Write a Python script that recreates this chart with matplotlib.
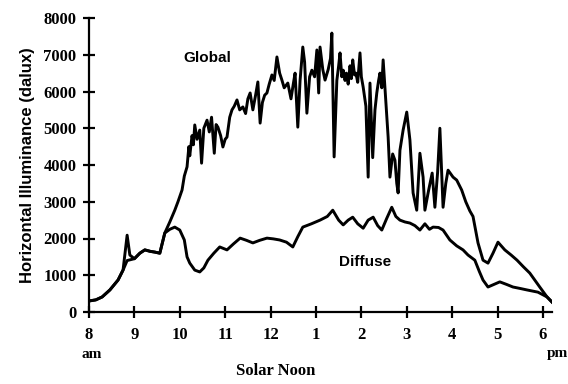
import matplotlib
matplotlib.use("Agg")
import matplotlib.pyplot as plt

# hours (24h clock) and horizontal illuminance in dalux
global_hr = [8.0, 8.15, 8.29, 8.46, 8.64, 8.75, 8.84, 9.0, 9.12, 9.23, 9.35, 9.45, 9.56,
             9.67, 9.78, 9.89, 9.96, 10.05, 10.1, 10.16, 10.2, 10.22, 10.27, 10.3, 10.33,
             10.38, 10.44, 10.48, 10.53, 10.6, 10.65, 10.7, 10.76, 10.8, 10.84, 10.9, 10.95,
             11.0, 11.04, 11.1, 11.15, 11.2, 11.26, 11.32, 11.39, 11.45, 11.5, 11.55, 11.61,
             11.67, 11.72, 11.77, 11.82, 11.87, 11.92, 11.97, 12.03, 12.08, 12.14, 12.2,
             12.25, 12.3, 12.38, 12.45, 12.5, 12.54, 12.6, 12.65, 12.71, 12.75, 12.8, 12.86,
             12.91, 12.97, 13.02, 13.06, 13.09, 13.15, 13.2, 13.27, 13.32, 13.35, 13.4,
             13.46, 13.5, 13.53, 13.57, 13.6, 13.64, 13.67, 13.71, 13.75, 13.78, 13.81,
             13.85, 13.88, 13.92, 13.97, 14.0, 14.04, 14.1, 14.15,
             14.19, 14.25, 14.3, 14.34, 14.38, 14.41, 14.45, 14.48, 14.55, 14.59, 14.63,
             14.69, 14.74, 14.78, 14.81, 14.85, 14.92, 15.0, 15.07, 15.14, 15.22, 15.29,
             15.36, 15.4, 15.48, 15.56, 15.62, 15.68, 15.73, 15.8, 15.86, 15.91, 16.02,
             16.1, 16.21, 16.3, 16.39, 16.46, 16.57, 16.68, 16.79, 16.9, 17.01, 17.16,
             17.3, 17.43, 17.57, 17.71, 17.82, 17.93, 18.09, 18.2]
global_lux = [300, 330, 410, 600, 870, 1140, 1400, 1450, 1600, 1690, 1650, 1630, 1600,
              2150, 2450, 2770, 3000, 3320, 3700, 3950, 4500, 4250, 4800, 4550, 5090,
              4700, 4950, 4050, 5000, 5220, 4900, 5300, 4320, 5100, 5030, 4800, 4490,
              4700, 4760, 5300, 5500, 5600, 5770, 5500, 5580, 5400, 5800, 5960, 5500,
              5900, 6260, 5140, 5700, 5900, 5960, 6200, 6450, 6300, 6940, 6500,
              6310, 6100, 6230, 5800, 6200, 6500, 5030, 6300, 7210, 6800, 5410, 6400,
              6580, 6400, 7130, 5960, 7210, 6600, 6310, 6600, 6900, 7590, 4220,
              6300, 6700, 7050, 6400, 6580, 6300, 6500, 6200, 6700, 6350, 6860,
              6450, 6500, 6250, 7050, 6400, 6120, 5600, 3670,
              6230, 4200, 5500, 5960, 6300, 6500, 6100, 6860, 5500, 4760, 3670,
              4300, 4130, 3500, 3240, 4400, 4950, 5440, 4680, 3240, 2770, 4320,
              3670, 2770, 3300, 3780, 2850, 3800, 5000, 2850, 3500, 3860, 3670,
              3590, 3320, 3000, 2750, 2600, 1880, 1410, 1330, 1600, 1900, 1690,
              1550, 1410, 1230, 1060, 870, 680, 410, 270]

diffuse_hr = [8.0, 8.15, 8.29, 8.46, 8.64, 8.75, 8.84, 8.9, 9.0, 9.12, 9.23, 9.35, 9.45,
              9.56, 9.67, 9.78, 9.89, 10.0, 10.1, 10.16, 10.22, 10.33, 10.44, 10.53, 10.62,
              10.75, 10.88, 11.04, 11.18, 11.33, 11.47, 11.61, 11.76, 11.92, 12.06, 12.2,
              12.35, 12.49, 12.6, 12.71, 12.9, 13.09, 13.25, 13.37, 13.5, 13.6, 13.71,
              13.81, 13.92, 14.04, 14.15, 14.26, 14.36, 14.45, 14.56, 14.67, 14.76, 14.85,
              14.96, 15.07, 15.18, 15.29, 15.4, 15.5, 15.58, 15.7, 15.8, 15.95, 16.1,
              16.24, 16.35, 16.5, 16.6, 16.68, 16.79, 16.92, 17.05, 17.2, 17.34, 17.5,
              17.65, 17.89, 18.09, 18.2]
diffuse_lux = [300, 330, 410, 600, 870, 1140, 2090, 1550, 1450, 1600, 1690, 1650, 1630,
               1600, 2150, 2250, 2310, 2230, 1960, 1500, 1330, 1140, 1090, 1200, 1410,
               1600, 1770, 1690, 1850, 2010, 1950, 1880, 1950, 2010, 1990, 1960,
               1900, 1770, 2050, 2310, 2400, 2500, 2600, 2770, 2500, 2370, 2500,
               2580, 2400, 2280, 2500, 2580, 2350, 2230, 2550, 2850, 2600, 2500,
               2450, 2420, 2350, 2230, 2400, 2250, 2310, 2300, 2230, 1960, 1800,
               1690, 1550, 1410, 1100, 870, 680, 750, 820, 750, 680, 640,
               600, 540, 410, 270]

x_ticks = [8, 9, 10, 11, 12, 13, 14, 15, 16, 17, 18]
x_labels = ["8", "9", "10", "11", "12", "1", "2", "3", "4", "5", "6"]
y_ticks = [0, 1000, 2000, 3000, 4000, 5000, 6000, 7000, 8000]

serif = "Liberation Serif"
sans = "Liberation Sans"

fig = plt.figure(figsize=(5.68, 3.84), dpi=100)
ax = fig.add_axes([89 / 568, 72 / 384, 463 / 568, 294 / 384])

ax.plot(global_hr, global_lux, color="black", lw=2.1)
ax.plot(diffuse_hr, diffuse_lux, color="black", lw=2.1)

ax.set_xlim(8, 18.2)
ax.set_ylim(0, 8000)
for s in ["top", "right"]:
    ax.spines[s].set_visible(False)
for s in ["left", "bottom"]:
    ax.spines[s].set_linewidth(1.6)

ax.set_xticks(x_ticks)
ax.set_xticklabels(x_labels, fontfamily=serif, fontweight="bold", fontsize=12)
ax.set_yticks(y_ticks)
ax.set_yticklabels([str(v) for v in y_ticks], fontfamily=serif, fontweight="bold", fontsize=12)
ax.tick_params(axis="both", direction="inout", length=8, width=1.6)
ax.tick_params(axis="x", pad=7)
ax.tick_params(axis="y", pad=5)

ax.set_ylabel("Horizontal Illuminance (dalux)", fontfamily=sans, fontweight="bold",
              fontsize=12, labelpad=6)

ax.text(10.6, 6900, "Global", fontfamily=sans, fontweight="bold", fontsize=11,
        ha="center", va="center")
ax.text(14.08, 1360, "Diffuse", fontfamily=sans, fontweight="bold", fontsize=11,
        ha="center", va="center")

fig.text(92 / 568, 1 - 354 / 384, "am", fontfamily=serif, fontweight="bold",
         fontsize=11, ha="center", va="center")
fig.text(557 / 568, 1 - 354 / 384, "pm", fontfamily=serif, fontweight="bold",
         fontsize=11, ha="center", va="center")
fig.text(276 / 568, 1 - 371 / 384, "Solar Noon", fontfamily=serif, fontweight="bold",
         fontsize=12, ha="center", va="center")

fig.savefig("out.png", dpi=100)
